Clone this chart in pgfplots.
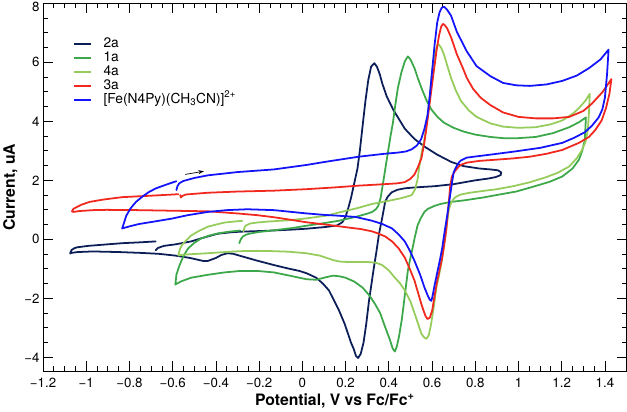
\documentclass[border=0pt]{standalone}
\usepackage{fontspec}
\setmainfont{TeX Gyre Heros}
\usepackage{pgfplots}
\pgfplotsset{compat=1.18}
\usetikzlibrary{arrows.meta}
\definecolor{cNavy}{RGB}{12,30,88}
\definecolor{cGreen}{RGB}{60,168,74}
\definecolor{cLight}{RGB}{150,204,92}
\definecolor{cRed}{RGB}{240,40,30}
\definecolor{cBlue}{RGB}{20,20,250}
\begin{document}
\begin{tikzpicture}
\begin{axis}[
  width=593pt, height=374pt, scale only axis,
  xmin=-1.2, xmax=1.5, ymin=-4.47, ymax=8,
  xtick={-1.2,-1,-0.8,-0.6,-0.4,-0.2,0,0.2,0.4,0.6,0.8,1,1.2,1.4},
  xticklabels={−1.2,−1,−0.8,−0.6,−0.4,−0.2,0,0.2,0.4,0.6,0.8,1,1.2,1.4},
  ytick={-4,-2,0,2,4,6,8},
  yticklabels={−4,−2,0,2,4,6,\smash{\raisebox{-8pt}{8}}},
  minor x tick num=3, minor y tick num=3,
  tick align=inside, major tick length=10pt, minor tick length=5pt,
  every tick/.style={black, line width=0.8pt},
  axis line style={line width=1pt},
  ticklabel style={font=\fontsize{13.5}{16}\selectfont},
  xticklabel style={yshift=-3pt},
  label style={font=\fontsize{16}{19}\selectfont\bfseries},
  xlabel={Potential, V vs Fc/Fc\textsuperscript{+}},
  ylabel={Current, uA},
  legend style={at={(0.051,0.906)}, anchor=north west, draw=none, fill=none,
    inner sep=0pt, row sep=1pt, font=\fontsize{14}{16}\selectfont,
    nodes={text height=9pt, text depth=2pt, inner sep=1pt},
    /tikz/every odd column/.append style={column sep=11pt}},
  legend cell align=left,
  legend image code/.code={\draw[#1, line width=2pt, line cap=butt] (0pt,0pt) -- (17pt,0pt);},
  every axis plot/.append style={line width=1.8pt, line join=round, line cap=round},
]
% 2a
\addplot[cNavy] coordinates {
(-0.679,-0.37) (-0.668,-0.29) (-0.640,-0.22) (-0.588,-0.17) (-0.515,-0.07) (-0.470,0.03)
(-0.437,0.10) (-0.392,0.19) (-0.330,0.24) (-0.287,0.26) (-0.164,0.29) (-0.050,0.33)
(0.018,0.36) (0.109,0.42) (0.160,0.47) (0.185,0.58) (0.200,0.77) (0.212,1.05)
(0.225,1.40) (0.240,1.90) (0.255,2.40) (0.266,3.00) (0.278,3.80) (0.292,4.70)
(0.305,5.40) (0.318,5.85) (0.333,5.97) (0.345,5.85) (0.358,5.60) (0.369,5.30)
(0.390,4.85) (0.420,4.40) (0.474,3.75) (0.519,3.40) (0.570,3.12) (0.624,2.87)
(0.690,2.62) (0.747,2.48) (0.820,2.40) (0.870,2.37) (0.905,2.34) (0.920,2.27)
(0.918,2.18) (0.895,2.11) (0.860,2.06) (0.800,2.00) (0.761,1.95) (0.700,1.87)
(0.610,1.80) (0.520,1.76) (0.474,1.73) (0.440,1.68) (0.415,1.60) (0.395,1.45)
(0.383,1.27) (0.370,0.75) (0.355,0.20) (0.343,-0.40) (0.330,-1.00) (0.320,-1.50)
(0.308,-2.10) (0.295,-2.90) (0.283,-3.50) (0.270,-3.88) (0.258,-4.02) (0.248,-3.95)
(0.238,-3.72) (0.225,-3.50) (0.216,-3.30) (0.195,-2.85) (0.169,-2.40) (0.145,-2.05)
(0.123,-1.73) (0.095,-1.50) (0.064,-1.30) (0.020,-1.15) (-0.014,-1.07) (-0.070,-0.98)
(-0.132,-0.87) (-0.210,-0.72) (-0.287,-0.56) (-0.320,-0.49) (-0.346,-0.47) (-0.375,-0.53)
(-0.400,-0.63) (-0.437,-0.73) (-0.460,-0.73) (-0.520,-0.63) (-0.588,-0.55) (-0.665,-0.49)
(-0.743,-0.46) (-0.850,-0.43) (-0.970,-0.41) (-1.040,-0.43) (-1.070,-0.46) (-1.075,-0.48)
(-1.068,-0.36) (-1.055,-0.30) (-1.043,-0.27) (-0.990,-0.22) (-0.938,-0.19) (-0.834,-0.13)
(-0.750,-0.10) (-0.679,-0.07)
};
\addlegendentry{2a}
% 1a
\addplot[cGreen] coordinates {
(-0.292,-0.13) (-0.285,0.00) (-0.275,0.10) (-0.260,0.16) (-0.241,0.20) (-0.200,0.25)
(-0.164,0.28) (-0.050,0.38) (0.018,0.46) (0.100,0.55) (0.169,0.63) (0.246,0.76)
(0.300,0.87) (0.323,0.93) (0.340,1.02) (0.351,1.13) (0.362,1.40) (0.374,1.93)
(0.385,2.45) (0.396,2.95) (0.408,3.50) (0.419,3.95) (0.430,4.55) (0.442,5.13)
(0.458,5.65) (0.474,6.03) (0.488,6.20) (0.500,6.10) (0.519,5.80) (0.535,5.45)
(0.551,5.13) (0.575,4.70) (0.597,4.40) (0.625,4.15) (0.656,3.95) (0.700,3.78)
(0.747,3.65) (0.800,3.55) (0.870,3.47) (0.929,3.43) (1.000,3.43) (1.080,3.47)
(1.160,3.60) (1.235,3.80) (1.280,3.97) (1.312,4.13) (1.310,3.80) (1.307,3.37)
(1.295,3.00) (1.280,2.70) (1.250,2.40) (1.203,2.13) (1.144,1.95) (1.052,1.75)
(0.989,1.62) (0.897,1.50) (0.838,1.42) (0.747,1.32) (0.688,1.27) (0.640,1.20)
(0.610,1.13) (0.580,1.03) (0.565,0.93) (0.548,0.72) (0.533,0.47) (0.519,0.03)
(0.510,-0.30) (0.498,-0.70) (0.488,-1.07) (0.474,-1.90) (0.460,-2.73) (0.447,-3.30)
(0.437,-3.63) (0.428,-3.80) (0.418,-3.70) (0.405,-3.40) (0.383,-2.97) (0.360,-2.50)
(0.337,-2.20) (0.310,-1.90) (0.278,-1.63) (0.240,-1.43) (0.200,-1.30) (0.170,-1.25)
(0.141,-1.23) (0.100,-1.30) (0.064,-1.37) (0.018,-1.35) (-0.059,-1.23) (-0.132,-1.12)
(-0.210,-1.07) (-0.287,-1.07) (-0.360,-1.12) (-0.437,-1.20) (-0.515,-1.30) (-0.560,-1.42)
(-0.588,-1.53) (-0.585,-1.35) (-0.583,-1.20) (-0.572,-0.95) (-0.560,-0.73) (-0.545,-0.50)
(-0.528,-0.30) (-0.500,-0.12) (-0.469,0.03) (-0.430,0.13) (-0.392,0.20) (-0.340,0.26)
(-0.287,0.30)
};
\addlegendentry{1a}
% 4a
\addplot[cLight] coordinates {
(-0.273,0.27) (-0.268,0.40) (-0.262,0.47) (-0.240,0.54) (-0.210,0.57) (-0.164,0.60)
(-0.059,0.65) (0.018,0.71) (0.109,0.80) (0.169,0.91) (0.250,1.05) (0.323,1.20)
(0.415,1.33) (0.460,1.40) (0.506,1.50) (0.522,1.70) (0.533,2.03) (0.542,2.50)
(0.551,2.90) (0.565,3.40) (0.577,4.05) (0.588,4.70) (0.601,5.75) (0.612,6.25)
(0.624,6.58) (0.632,6.60) (0.643,6.48) (0.656,6.25) (0.672,5.85) (0.688,5.47)
(0.710,5.05) (0.733,4.70) (0.770,4.37) (0.806,4.15) (0.870,3.93) (0.929,3.82)
(1.000,3.78) (1.080,3.80) (1.150,3.90) (1.203,4.03) (1.250,4.25) (1.280,4.45)
(1.310,4.70) (1.330,4.93) (1.327,4.40) (1.321,3.70) (1.310,3.30) (1.294,3.03)
(1.270,2.75) (1.235,2.47) (1.180,2.25) (1.125,2.10) (1.050,1.93) (0.975,1.80)
(0.900,1.70) (0.825,1.63) (0.775,1.58) (0.733,1.52) (0.712,1.45) (0.700,1.37)
(0.688,1.23) (0.679,1.05) (0.672,0.70) (0.665,0.27) (0.654,-0.30) (0.642,-0.87)
(0.630,-1.30) (0.620,-1.63) (0.608,-2.30) (0.595,-2.90) (0.585,-3.25) (0.574,-3.37)
(0.563,-3.32) (0.551,-3.20) (0.535,-2.85) (0.519,-2.50) (0.500,-2.10) (0.474,-1.73)
(0.450,-1.47) (0.428,-1.30) (0.400,-1.05) (0.369,-0.87) (0.340,-0.79) (0.305,-0.77)
(0.250,-0.77) (0.214,-0.77) (0.170,-0.75) (0.141,-0.70) (0.080,-0.55) (0.018,-0.47)
(-0.060,-0.42) (-0.132,-0.40) (-0.210,-0.39) (-0.287,-0.40) (-0.360,-0.43) (-0.437,-0.47)
(-0.510,-0.50) (-0.555,-0.52) (-0.574,-0.55) (-0.570,-0.42) (-0.565,-0.30) (-0.555,-0.17)
(-0.542,-0.07) (-0.515,0.13) (-0.480,0.28) (-0.437,0.43) (-0.400,0.50) (-0.360,0.57)
(-0.320,0.60) (-0.278,0.63)
};
\addlegendentry{4a}
% 3a
\addplot[cRed] coordinates {
(-0.565,1.50) (-0.562,1.42) (-0.555,1.47) (-0.540,1.52) (-0.437,1.58) (-0.300,1.62)
(-0.132,1.65) (0.018,1.70) (0.150,1.76) (0.260,1.82) (0.380,1.87) (0.442,1.90)
(0.474,1.94) (0.500,2.05) (0.519,2.20) (0.535,2.45) (0.551,2.75) (0.565,3.30)
(0.579,4.03) (0.595,4.95) (0.610,5.80) (0.622,6.45) (0.633,6.93) (0.643,7.22)
(0.651,7.30) (0.660,7.25) (0.670,7.15) (0.688,6.85) (0.715,6.27) (0.740,5.85)
(0.761,5.47) (0.790,5.10) (0.825,4.80) (0.870,4.55) (0.929,4.30) (1.000,4.15)
(1.080,4.10) (1.160,4.10) (1.235,4.15) (1.300,4.35) (1.340,4.60) (1.390,5.00)
(1.430,5.43) (1.424,5.10) (1.421,4.93) (1.405,4.45) (1.385,4.03) (1.355,3.70)
(1.326,3.47) (1.280,3.27) (1.203,3.03) (1.130,2.90) (1.052,2.80) (0.970,2.74)
(0.897,2.70) (0.820,2.66) (0.761,2.60) (0.735,2.53) (0.724,2.47) (0.705,2.30)
(0.692,2.13) (0.684,1.80) (0.679,1.37) (0.672,0.80) (0.665,0.27) (0.656,-0.20)
(0.647,-0.63) (0.636,-1.00) (0.624,-1.40) (0.612,-1.90) (0.601,-2.40) (0.590,-2.65)
(0.579,-2.70) (0.570,-2.60) (0.560,-2.40) (0.551,-2.20) (0.535,-1.80) (0.519,-1.40)
(0.497,-1.00) (0.474,-0.62) (0.445,-0.30) (0.415,-0.07) (0.383,0.10) (0.350,0.20)
(0.323,0.27) (0.270,0.35) (0.214,0.40) (0.109,0.50) (0.018,0.58) (-0.060,0.67)
(-0.132,0.75) (-0.210,0.82) (-0.287,0.87) (-0.360,0.91) (-0.437,0.95) (-0.600,0.97)
(-0.756,0.99) (-0.907,1.00) (-0.970,0.99) (-1.030,0.96) (-1.060,0.93) (-1.066,0.95)
(-1.060,1.03) (-1.043,1.10) (-1.020,1.18) (-0.984,1.27) (-0.920,1.35) (-0.834,1.43)
(-0.700,1.48) (-0.574,1.53)
};
\addlegendentry{3a}
% Fe(N4Py)
\addplot[cBlue] coordinates {
(-0.583,1.67) (-0.578,1.80) (-0.570,1.90) (-0.550,1.98) (-0.500,2.08) (-0.437,2.17)
(-0.300,2.28) (-0.132,2.37) (0.018,2.52) (0.109,2.63) (0.260,2.80) (0.380,2.90)
(0.442,2.94) (0.480,2.98) (0.506,3.05) (0.530,3.18) (0.550,3.40) (0.565,3.75)
(0.579,4.20) (0.590,4.90) (0.601,5.75) (0.612,6.60) (0.624,7.35) (0.635,7.70)
(0.645,7.85) (0.656,7.88) (0.670,7.78) (0.688,7.58) (0.715,7.03) (0.761,6.37)
(0.806,5.87) (0.870,5.53) (0.929,5.30) (0.990,5.22) (1.052,5.20) (1.130,5.25)
(1.203,5.37) (1.270,5.55) (1.326,5.80) (1.380,6.10) (1.417,6.43) (1.410,5.60)
(1.400,4.80) (1.388,4.40) (1.371,4.13) (1.340,3.85) (1.307,3.63) (1.260,3.45)
(1.203,3.27) (1.100,3.10) (0.975,2.97) (0.880,2.88) (0.793,2.80) (0.761,2.77)
(0.735,2.68) (0.724,2.60) (0.710,2.43) (0.700,2.27) (0.693,1.95) (0.688,1.70)
(0.680,1.30) (0.670,0.80) (0.658,0.25) (0.647,-0.30) (0.636,-0.72) (0.624,-1.13)
(0.612,-1.55) (0.603,-1.90) (0.597,-2.08) (0.590,-2.05) (0.580,-1.90) (0.565,-1.63)
(0.545,-1.20) (0.519,-0.73) (0.497,-0.38) (0.474,-0.07) (0.445,0.17) (0.415,0.37)
(0.370,0.52) (0.323,0.63) (0.246,0.76) (0.169,0.80) (0.100,0.83) (0.018,0.88)
(-0.132,0.99) (-0.255,1.02) (-0.350,0.99) (-0.437,0.93) (-0.530,0.82) (-0.606,0.70)
(-0.680,0.61) (-0.756,0.52) (-0.800,0.44) (-0.834,0.37) (-0.828,0.50) (-0.815,0.80)
(-0.795,1.05) (-0.770,1.27) (-0.740,1.45) (-0.711,1.60) (-0.680,1.72) (-0.651,1.80)
(-0.620,1.88) (-0.583,1.97)
};
\addlegendentry{[Fe(N4Py)(CH\textsubscript{3}CN)]\textsuperscript{2+}}
\draw[-{Stealth[length=6pt,width=4pt]}, line width=0.7pt, black]
  (axis cs:-0.542,2.2) -- (axis cs:-0.455,2.31);
\end{axis}
\end{tikzpicture}
\end{document}
